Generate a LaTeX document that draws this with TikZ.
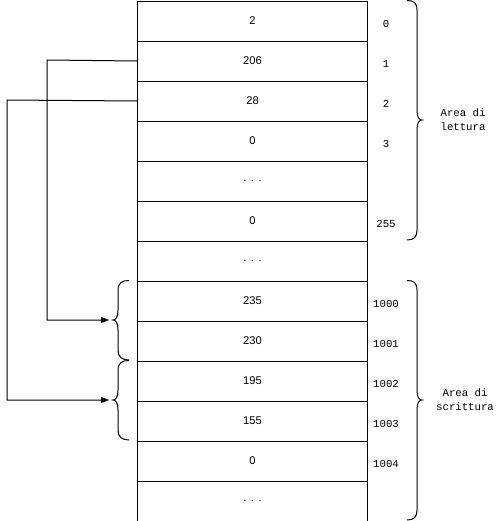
\documentclass[tikz,border=0pt]{standalone}
\usepackage{fontspec}
\setmainfont{Liberation Sans}
\newfontfamily\monofont{Liberation Mono}
\usetikzlibrary{arrows.meta}
\newcommand\cellgap{.\hspace{3.4pt}.\hspace{3.4pt}.}
\begin{document}
\begin{tikzpicture}[x=0.75pt,y=-0.75pt,
  cell/.style={draw,line width=0.75pt,minimum width=172.5pt,minimum height=30pt,inner sep=0pt,anchor=north west,font=\fontsize{8.4}{9}\selectfont},
  addr/.style={font=\monofont\fontsize{8}{9}\selectfont,inner sep=0pt},
  area/.style={font=\monofont\fontsize{8}{10.5}\selectfont,align=center,inner sep=0pt},
  link/.style={line width=0.75pt,-{Triangle[length=6pt,width=4.5pt]}},
  curly/.style={line width=0.75pt}]
\useasboundingbox (0,0) rectangle (498,521);
% memory cells
\foreach \v [count=\i from 0] in {2,206,28,0,\cellgap,0,\cellgap,235,230,195,155,0,\cellgap}
  \node[cell] (c\i) at (137,{0.5+40*\i}) {\v};
% addresses
\foreach \a/\r in {0/0,1/1,2/2,3/3,255/5,1000/7,1001/8,1002/9,1003/10,1004/11}
  \node[addr] (a\a) at (386,{40*\r+23.5}) {\a};
% right braces
\draw[curly] (407,0.5) .. controls (414,0.5) and (417,3) .. (417,10) -- (417,110)
  .. controls (417,117) and (419,120) .. (422,120)
  .. controls (419,120) and (417,123) .. (417,130) -- (417,230)
  .. controls (417,237) and (414,240) .. (407,240);
\draw[curly] (407,280.5) .. controls (414,280.5) and (417,283) .. (417,290) -- (417,390)
  .. controls (417,397) and (419,400) .. (422,400)
  .. controls (419,400) and (417,403) .. (417,410) -- (417,510)
  .. controls (417,517) and (414,520) .. (407,520);
\node[area] (rd) at (463,120) {Area di\\lettura};
\node[area] (wr) at (465,400) {Area di\\scrittura};
% left braces around the destination words
\foreach \t in {280,360} {
  \draw[curly] (129,\t+0.5) .. controls (122,\t+0.5) and (118,\t+3) .. (118,\t+10) -- (118,\t+30)
    .. controls (118,\t+37) and (116,\t+40) .. (113,\t+40)
    .. controls (116,\t+40) and (118,\t+43) .. (118,\t+50) -- (118,\t+70)
    .. controls (118,\t+77) and (122,\t+80) .. (129,\t+80);
}
\coordinate (t1) at (109,320);
\coordinate (t2) at (109,400);
% pointers
\draw[link] (c1.west) -- (47,60) |- (t1);
\draw[link] (c2.west) -- (7,100) |- (t2);
\end{tikzpicture}
\end{document}
